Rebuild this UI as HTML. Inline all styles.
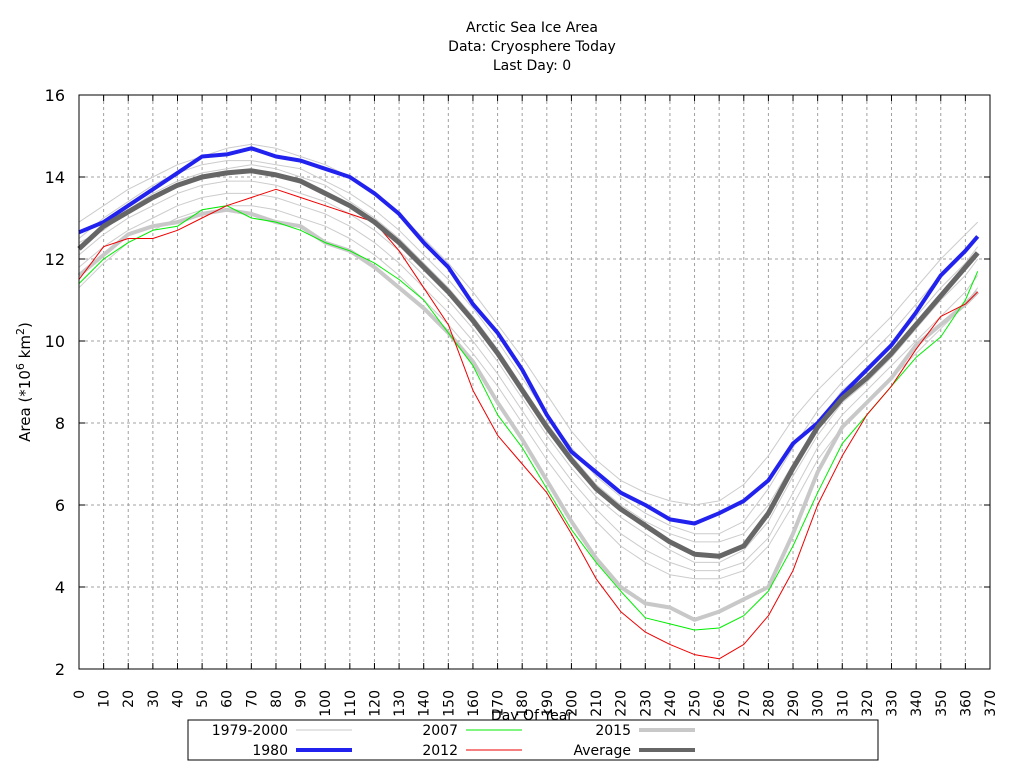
<!DOCTYPE html>
<html><head><meta charset="utf-8"><style>
body{margin:0;background:#fff;}
svg{display:block;font-family:"DejaVu Sans","Liberation Sans",sans-serif;}
</style></head><body>
<svg id="chart" width="1024" height="768" viewBox="0 0 1024 768" xmlns="http://www.w3.org/2000/svg">
<g font-size="14" text-anchor="middle" fill="#000">
<text x="532" y="32">Arctic Sea Ice Area</text>
<text x="532" y="51">Data: Cryosphere Today</text>
<text x="532" y="70">Last Day: 0</text>
</g>
<g id="grid"></g>
<g id="series"></g>
<rect x="79" y="95" width="911" height="574" fill="none" stroke="#000" stroke-width="1"/>
<g id="axes"></g>
<text x="30" y="382" font-size="15" text-anchor="middle" transform="rotate(-90 30 382)">Area (*10<tspan dy="-6" font-size="11">6</tspan><tspan dy="6"> km</tspan><tspan dy="-6" font-size="11">2</tspan><tspan dy="6">)</tspan></text>
<text x="532" y="720" font-size="14" text-anchor="middle">Day Of Year</text>
<g font-size="14">
<rect x="188" y="720" width="690" height="40" fill="#fff" stroke="#000"/>
<g><text x="288" y="735" text-anchor="end">1979-2000</text><line x1="296" y1="730" x2="352" y2="730" stroke="#c8c8c8" stroke-width="1"/></g>
<g><text x="288" y="755" text-anchor="end">1980</text><line x1="296" y1="750" x2="352" y2="750" stroke="#2222ee" stroke-width="4"/></g>
<g><text x="458" y="735" text-anchor="end">2007</text><line x1="466" y1="730" x2="522" y2="730" stroke="#00ee00" stroke-width="1"/></g>
<g><text x="458" y="755" text-anchor="end">2012</text><line x1="466" y1="750" x2="522" y2="750" stroke="#ee0000" stroke-width="1"/></g>
<g><text x="631" y="735" text-anchor="end">2015</text><line x1="639" y1="730" x2="695" y2="730" stroke="#c8c8c8" stroke-width="4"/></g>
<g><text x="631" y="755" text-anchor="end">Average</text><line x1="639" y1="750" x2="695" y2="750" stroke="#666" stroke-width="4"/></g>
</g>
</svg>
<script>
const days=[0,10,20,30,40,50,60,70,80,90,100,110,120,130,140,150,160,170,180,190,200,210,220,230,240,250,260,270,280,290,300,310,320,330,340,350,360,365];
const xTicks=[0,10,20,30,40,50,60,70,80,90,100,110,120,130,140,150,160,170,180,190,200,210,220,230,240,250,260,270,280,290,300,310,320,330,340,350,360,370];
const yTicks=[2,4,6,8,10,12,14,16];
const avg=[12.25,12.8,13.15,13.5,13.8,14.0,14.1,14.15,14.05,13.9,13.6,13.3,12.9,12.4,11.8,11.2,10.5,9.7,8.8,7.9,7.1,6.4,5.9,5.5,5.1,4.8,4.75,5.0,5.8,6.9,7.9,8.6,9.1,9.7,10.4,11.1,11.8,12.15];
const y1980=[12.65,12.9,13.3,13.7,14.1,14.5,14.55,14.7,14.5,14.4,14.2,14.0,13.6,13.1,12.4,11.8,10.9,10.2,9.3,8.2,7.3,6.8,6.3,6.0,5.65,5.55,5.8,6.1,6.6,7.5,8.0,8.7,9.3,9.9,10.7,11.6,12.2,12.55];
const y2007=[11.4,12.0,12.4,12.7,12.8,13.2,13.3,13.0,12.9,12.7,12.4,12.2,11.9,11.5,11.0,10.2,9.4,8.2,7.4,6.4,5.4,4.6,3.9,3.25,3.1,2.95,3.0,3.3,3.9,5.0,6.3,7.5,8.2,8.9,9.6,10.1,11.0,11.7];
const y2012=[11.5,12.3,12.5,12.5,12.7,13.0,13.3,13.5,13.7,13.5,13.3,13.1,12.9,12.2,11.3,10.4,8.8,7.7,7.0,6.3,5.3,4.2,3.4,2.9,2.6,2.35,2.25,2.6,3.3,4.4,6.0,7.2,8.2,8.9,9.8,10.6,10.9,11.2];
const y2015=[11.6,12.1,12.6,12.8,12.9,13.1,13.2,13.1,12.9,12.8,12.4,12.2,11.8,11.3,10.8,10.2,9.5,8.5,7.6,6.6,5.6,4.7,4.0,3.6,3.5,3.2,3.4,3.7,4.0,5.3,6.8,7.9,8.5,9.1,9.9,10.4,10.9,11.2];
const clim1=[12.9,13.3,13.7,14.0,14.3,14.5,14.7,14.8,14.7,14.5,14.3,14.0,13.6,13.1,12.5,11.9,11.2,10.4,9.6,8.7,7.8,7.1,6.6,6.3,6.1,6.0,6.1,6.5,7.2,8.1,8.8,9.4,10.0,10.6,11.3,12.0,12.6,12.9];
const clim2=[12.5,13.0,13.4,13.8,14.1,14.3,14.4,14.4,14.3,14.2,13.9,13.6,13.2,12.7,12.1,11.5,10.8,10.0,9.1,8.2,7.4,6.7,6.2,5.8,5.5,5.3,5.3,5.6,6.4,7.4,8.3,9.0,9.6,10.2,10.9,11.6,12.2,12.5];
const clim3=[12.1,12.6,13.0,13.3,13.6,13.8,13.9,13.9,13.8,13.6,13.4,13.1,12.7,12.2,11.6,11.0,10.3,9.5,8.6,7.7,6.9,6.2,5.7,5.3,4.9,4.6,4.6,4.9,5.6,6.7,7.7,8.5,9.0,9.6,10.3,11.0,11.6,12.0];
const clim4=[11.8,12.3,12.7,13.0,13.3,13.5,13.6,13.6,13.5,13.3,13.1,12.8,12.4,11.9,11.3,10.7,10.0,9.2,8.3,7.4,6.6,5.9,5.3,4.9,4.6,4.4,4.4,4.6,5.2,6.3,7.4,8.2,8.8,9.4,10.0,10.6,11.2,11.6];
const clim5=[11.3,11.9,12.4,12.7,13.0,13.2,13.3,13.3,13.2,13.0,12.8,12.5,12.1,11.6,11.0,10.4,9.7,8.9,8.0,7.1,6.3,5.6,5.0,4.6,4.3,4.2,4.2,4.4,5.0,6.0,7.1,7.9,8.5,9.1,9.7,10.3,10.9,11.3];
const clim6=[12.4,12.7,13.2,13.6,13.9,14.1,14.2,14.3,14.2,14.0,13.8,13.4,13.0,12.5,11.9,11.3,10.6,9.8,8.9,8.0,7.2,6.5,6.0,5.6,5.3,5.1,5.1,5.3,6.0,7.0,8.0,8.8,9.3,9.9,10.6,11.3,11.9,12.3];
const NS='http://www.w3.org/2000/svg';
const X0=79,X1=990,Y0=669,Y1=95;
function sx(d){return X0+(d-0)/(370-0)*(X1-X0);}
function sy(v){return Y0-(v-2)/(16-2)*(Y0-Y1);}
const grid=document.getElementById('grid'),axes=document.getElementById('axes'),ser=document.getElementById('series');
function mk(tag,attrs,parent){const e=document.createElementNS(NS,tag);for(const k in attrs)e.setAttribute(k,attrs[k]);parent.appendChild(e);return e;}
xTicks.forEach(t=>{
  const x=sx(t);
  if(t>0&&t<370){const g=mk('line',{x1:x,y1:Y1,x2:x,y2:Y0,stroke:'#a0a0a0','stroke-dasharray':'3,3'},grid);
  
  }
  mk('line',{x1:x,y1:Y0,x2:x,y2:Y0-6,stroke:'#000'},axes);
  mk('line',{x1:x,y1:Y1,x2:x,y2:Y1+6,stroke:'#000'},axes);
  const tx=mk('text',{x:x+5,y:690,'font-size':'14','text-anchor':'end',transform:`rotate(-90 ${x+5} 690)`},axes);
  
  
  tx.textContent=t;
});
yTicks.forEach(t=>{
  const y=sy(t);
  if(t>2&&t<16){const g=mk('line',{x1:X0,y1:y,x2:X1,y2:y,stroke:'#a0a0a0','stroke-dasharray':'3,3'},grid);
  
  }
  mk('line',{x1:X0,y1:y,x2:X0+6,y2:y,stroke:'#000'},axes);
  mk('line',{x1:X1,y1:y,x2:X1-6,y2:y,stroke:'#000'},axes);
  const tx=mk('text',{x:65,y:y+6,'font-size':'16','text-anchor':'end'},axes);
  
  
  tx.textContent=t;
});
function line(vals,color,w,name){
  const pts=vals.map((v,i)=>sx(days[i]).toFixed(1)+','+sy(v).toFixed(1)).join(' ');
  const p=mk('polyline',{points:pts,fill:'none',stroke:color,'stroke-width':w,'stroke-linejoin':'round'},ser);
  
  
}
[clim1,clim2,clim3,clim4,clim5,clim6].forEach(c=>line(c,'#cccccc',1,'line-1979-2000'));
line(y2015,'#c8c8c8',4,'line-2015');
line(y2007,'#00ee00',1,'line-2007');
line(y2012,'#ee0000',1,'line-2012');
line(y1980,'#2222ee',4,'line-1980');
line(avg,'#666666',5,'line-average');
</script>
</body></html>
